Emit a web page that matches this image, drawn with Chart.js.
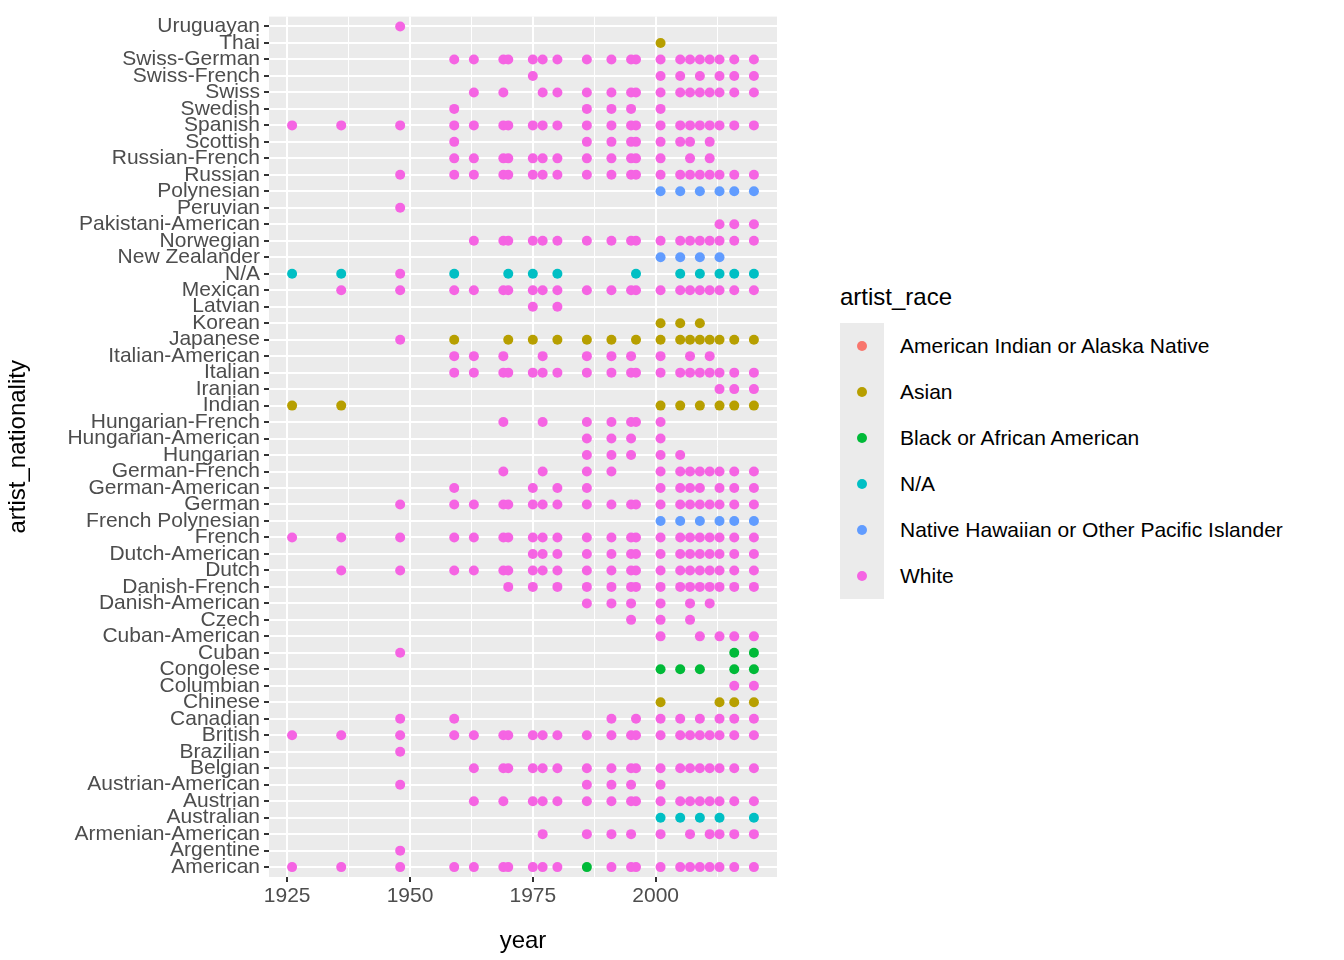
<!DOCTYPE html>
<html>
<head>
<meta charset="utf-8">
<script src="https://cdn.jsdelivr.net/npm/chart.js@4"></script>
<style>
  body { margin: 0; background: #fff; font-family: "Liberation Sans", Arial, sans-serif; }
  #wrap { position: relative; width: 1344px; height: 960px; }
  #chartbox { position: absolute; left: 0; top: 0; width: 800px; height: 960px; }
  #legend { position: absolute; left: 840px; top: 283px; color: #000; }
  #legend .title { font-size: 24px; margin-bottom: 12px; }
  #legend .item { display: flex; align-items: center; height: 46px; font-size: 21px; }
  #legend .key { width: 44px; height: 46px; background: #ebebeb; position: relative; margin-right: 16px; }
  #legend .dot { position: absolute; left: 17px; top: 18px; width: 10px; height: 10px; border-radius: 50%; }
</style>
</head>
<body>
<div id="wrap">
  <div id="chartbox"><canvas id="grafico"></canvas></div>
  <div id="legend"></div>
</div>
<script>
// nationalities, bottom to top
const nationalities = ['American', 'Argentine', 'Armenian-American', 'Australian', 'Austrian', 'Austrian-American',
  'Belgian', 'Brazilian', 'British', 'Canadian', 'Chinese', 'Columbian', 'Congolese', 'Cuban', 'Cuban-American',
  'Czech', 'Danish-American', 'Danish-French', 'Dutch', 'Dutch-American', 'French', 'French Polynesian', 'German',
  'German-American', 'German-French', 'Hungarian', 'Hungarian-American', 'Hungarian-French', 'Indian', 'Iranian',
  'Italian', 'Italian-American', 'Japanese', 'Korean', 'Latvian', 'Mexican', 'N/A', 'New Zealander', 'Norwegian',
  'Pakistani-American', 'Peruvian', 'Polynesian', 'Russian', 'Russian-French', 'Scottish', 'Spanish', 'Swedish',
  'Swiss', 'Swiss-French', 'Swiss-German', 'Thai', 'Uruguayan'];

const raceNames = ['American Indian or Alaska Native', 'Asian', 'Black or African American', 'N/A',
  'Native Hawaiian or Other Pacific Islander', 'White'];
const raceColors = ['#F8766D', '#B79F00', '#00BA38', '#00BFC4', '#619CFF', '#F564E3'];

// years per nationality, one list per race
const whiteRows = [
  ['American', [1926,1936,1948,1959,1963,1969,1970,1975,1977,1980,1991,1995,1996,2001,2005,2007,2009,2011,2013,2016,2020]],
  ['Argentine', [1948]],
  ['Armenian-American', [1977,1986,1991,1995,2001,2007,2011,2013,2016,2020]],
  ['Austrian', [1963,1969,1975,1977,1980,1986,1991,1995,1996,2001,2005,2007,2009,2011,2013,2016,2020]],
  ['Austrian-American', [1948,1986,1991,1995,2001]],
  ['Belgian', [1963,1969,1970,1975,1977,1980,1986,1991,1995,1996,2001,2005,2007,2009,2011,2013,2016,2020]],
  ['Brazilian', [1948]],
  ['British', [1926,1936,1948,1959,1963,1969,1970,1975,1977,1980,1986,1991,1995,1996,2001,2005,2007,2009,2011,2013,2016,2020]],
  ['Canadian', [1948,1959,1991,1996,2001,2005,2009,2013,2016,2020]],
  ['Columbian', [2016,2020]],
  ['Cuban', [1948]],
  ['Cuban-American', [2001,2009,2013,2016,2020]],
  ['Czech', [1995,2001,2007]],
  ['Danish-American', [1986,1991,1995,2001,2007,2011]],
  ['Danish-French', [1970,1975,1980,1986,1991,1995,1996,2001,2005,2007,2009,2011,2013,2016,2020]],
  ['Dutch', [1936,1948,1959,1963,1969,1970,1975,1977,1980,1986,1991,1995,1996,2001,2005,2007,2009,2011,2013,2016,2020]],
  ['Dutch-American', [1975,1977,1980,1986,1991,1995,1996,2001,2005,2007,2009,2011,2013,2016,2020]],
  ['French', [1926,1936,1948,1959,1963,1969,1970,1975,1977,1980,1986,1991,1995,1996,2001,2005,2007,2009,2011,2013,2016,2020]],
  ['German', [1948,1959,1963,1969,1970,1975,1977,1980,1986,1991,1995,1996,2001,2005,2007,2009,2011,2013,2016,2020]],
  ['German-American', [1959,1975,1980,1986,2001,2005,2007,2009,2013,2016,2020]],
  ['German-French', [1969,1977,1986,1991,2001,2005,2007,2009,2011,2013,2016,2020]],
  ['Hungarian', [1986,1991,1995,2001,2005]],
  ['Hungarian-American', [1986,1991,1995,2001]],
  ['Hungarian-French', [1969,1977,1986,1991,1995,1996,2001]],
  ['Iranian', [2013,2016,2020]],
  ['Italian', [1959,1963,1969,1970,1975,1977,1980,1986,1991,1995,1996,2001,2005,2007,2009,2011,2013,2016,2020]],
  ['Italian-American', [1959,1963,1969,1977,1986,1991,1995,2001,2007,2011]],
  ['Japanese', [1948]],
  ['Latvian', [1975,1980]],
  ['Mexican', [1936,1948,1959,1963,1969,1970,1975,1977,1980,1986,1991,1995,1996,2001,2005,2007,2009,2011,2013,2016,2020]],
  ['N/A', [1948]],
  ['Norwegian', [1963,1969,1970,1975,1977,1980,1986,1991,1995,1996,2001,2005,2007,2009,2011,2013,2016,2020]],
  ['Pakistani-American', [2013,2016,2020]],
  ['Peruvian', [1948]],
  ['Russian', [1948,1959,1963,1969,1970,1975,1977,1980,1986,1991,1995,1996,2001,2005,2007,2009,2011,2013,2016,2020]],
  ['Russian-French', [1959,1963,1969,1970,1975,1977,1980,1986,1991,1995,1996,2001,2007,2011]],
  ['Scottish', [1959,1986,1991,1995,1996,2001,2005,2007,2011]],
  ['Spanish', [1926,1936,1948,1959,1963,1969,1970,1975,1977,1980,1986,1991,1995,1996,2001,2005,2007,2009,2011,2013,2016,2020]],
  ['Swedish', [1959,1986,1991,1995,2001]],
  ['Swiss', [1963,1969,1977,1980,1986,1991,1995,1996,2001,2005,2007,2009,2011,2013,2016,2020]],
  ['Swiss-French', [1975,2001,2005,2009,2013,2016,2020]],
  ['Swiss-German', [1959,1963,1969,1970,1975,1977,1980,1986,1991,1995,1996,2001,2005,2007,2009,2011,2013,2016,2020]],
  ['Uruguayan', [1948]]
];
const asianRows = [
  ['Chinese', [2001,2013,2016,2020]],
  ['Indian', [1926,1936,2001,2005,2009,2013,2016,2020]],
  ['Japanese', [1959,1970,1975,1980,1986,1991,1996,2001,2005,2007,2009,2011,2013,2016,2020]],
  ['Korean', [2001,2005,2009]],
  ['Thai', [2001]]
];
const blackRows = [
  ['American', [1986]],
  ['Congolese', [2001,2005,2009,2016,2020]],
  ['Cuban', [2016,2020]]
];
const naRows = [
  ['Australian', [2001,2005,2009,2013,2020]],
  ['N/A', [1926,1936,1959,1970,1975,1980,1996,2005,2009,2013,2016,2020]]
];
const hawaiianRows = [
  ['French Polynesian', [2001,2005,2009,2013,2016,2020]],
  ['New Zealander', [2001,2005,2009,2013]],
  ['Polynesian', [2001,2005,2009,2013,2016,2020]]
];
const xTicks = [1925, 1950, 1975, 2000];

function toPoints(rows) {
  const pts = [];
  rows.forEach(([nat, years]) => {
    years.forEach(y => pts.push({ x: y, y: nationalities.indexOf(nat) }));
  });
  return pts;
}

const raceRows = [[], asianRows, blackRows, naRows, hawaiianRows, whiteRows];
const datasets = raceRows.map((rows, i) => ({
  label: raceNames[i],
  data: toPoints(rows),
  backgroundColor: raceColors[i],
  borderWidth: 0,
  pointRadius: 5,
  pointHoverRadius: 5
}));

const panelBg = {
  id: 'panelBg',
  beforeDraw(chart) {
    const a = chart.chartArea, c = chart.ctx;
    c.save();
    c.fillStyle = '#ebebeb';
    c.fillRect(a.left, a.top, a.right - a.left, a.bottom - a.top);
    c.restore();
  }
};

const grafx = document.getElementById('grafico').getContext('2d');
new Chart(grafx, {
  type: 'scatter',
  data: { datasets: datasets },
  plugins: [panelBg],
  options: {
    responsive: true,
    maintainAspectRatio: false,
    animation: false,
    layout: { padding: { top: 14, right: 23, left: 0, bottom: 0 } },
    plugins: { legend: { display: false }, tooltip: { enabled: false } },
    scales: {
      x: {
        type: 'linear',
        min: 1921.3,
        max: 2024.7,
        afterBuildTicks(scale) {
          const t = [];
          xTicks.forEach(v => { t.push({ value: v }); t.push({ value: v + 12.5 }); });
          scale.ticks = t.filter(o => o.value < 2024.7);
        },
        afterFit(scale) { scale.height = 83; },
        grid: {
          color: '#ffffff',
          lineWidth: ctx => (ctx.tick && ctx.tick.value % 25 === 0) ? 2 : 1,
          tickColor: ctx => (ctx.tick && ctx.tick.value % 25 === 0) ? '#333333' : 'rgba(0,0,0,0)',
          tickLength: 5,
          tickWidth: 2,
          drawOnChartArea: true
        },
        border: { display: false },
        ticks: {
          autoSkip: false,
          maxRotation: 0,
          color: '#4d4d4d',
          font: { family: 'Liberation Sans', size: 21 },
          padding: 2,
          callback: v => (v % 25 === 0) ? String(v) : ''
        },
        title: { display: true, text: 'year', color: '#000', font: { family: 'Liberation Sans', size: 24 }, padding: { top: 4 } }
      },
      y: {
        type: 'linear',
        min: -0.6,
        max: nationalities.length - 0.4,
        afterBuildTicks(scale) {
          scale.ticks = nationalities.map((n, i) => ({ value: i }));
        },
        afterFit(scale) { scale.width = 269; },
        grid: { color: '#ffffff', lineWidth: 2, tickColor: '#333333', tickLength: 5, tickWidth: 2 },
        border: { display: false },
        ticks: {
          autoSkip: false,
          color: '#4d4d4d',
          font: { family: 'Liberation Sans', size: 21 },
          padding: 4,
          callback: v => nationalities[v]
        },
        title: { display: true, text: 'artist_nationality', color: '#000', font: { family: 'Liberation Sans', size: 24 }, padding: { bottom: 2 } }
      }
    }
  }
});

// ggplot-style legend
const legend = document.getElementById('legend');
let html = '<div class="title">artist_race</div>';
raceNames.forEach((n, i) => {
  html += '<div class="item"><div class="key"><div class="dot" style="background:' + raceColors[i] + '"></div></div>' + n + '</div>';
});
legend.innerHTML = html;
</script>
</body>
</html>
